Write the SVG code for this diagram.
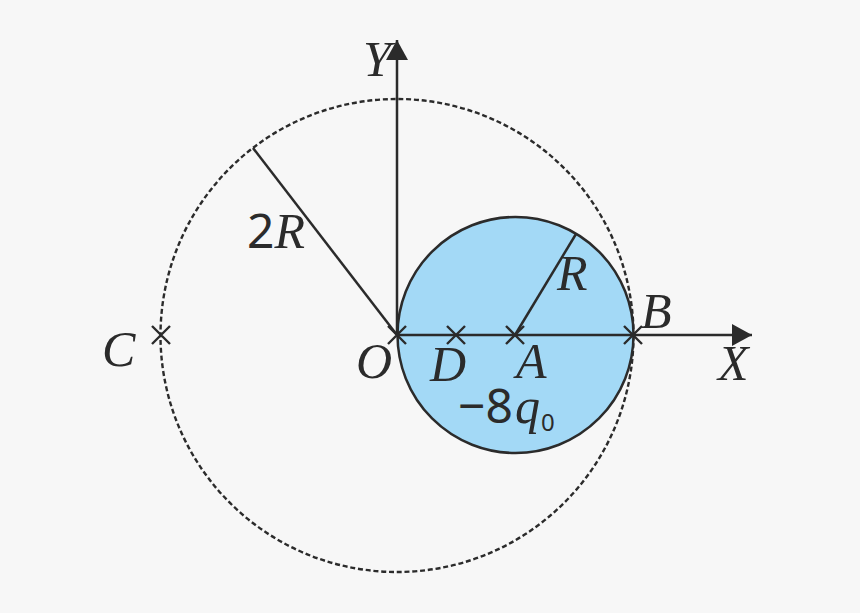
<svg xmlns="http://www.w3.org/2000/svg" width="860" height="613" viewBox="0 0 860 613">
<defs>
<style>
.ln{stroke:#2b2b2b;stroke-width:2.5;fill:none}
.cr{stroke:#2b2b2b;stroke-width:2.4;fill:none}
.lb{font-family:"Liberation Serif","DejaVu Serif",serif;font-style:italic;font-size:50px;fill:#2b2b2b}
.nm{font-family:"Noto Sans","Open Sans",sans-serif;font-style:normal;font-size:48px;fill:#2b2b2b}
.sb{font-family:"Noto Sans","Open Sans",sans-serif;font-style:normal;font-size:24px;fill:#2b2b2b}
</style>
<marker id="ah" viewBox="0 0 20 22" refX="20" refY="11" markerWidth="20" markerHeight="22" markerUnits="userSpaceOnUse" orient="auto">
<path d="M0,0 L20,11 L0,22 Z" fill="#2b2b2b"/>
</marker>
</defs>
<rect width="860" height="613" fill="#f7f7f7"/>
<g id="big-circle">
<circle cx="397" cy="335.5" r="236.5" fill="none" stroke="#2b2b2b" stroke-width="2.4" stroke-dasharray="5,2.8"/>
</g>
<g id="charge-sphere">
<circle cx="515.5" cy="335" r="118" fill="#a3d9f6" stroke="#2b2b2b" stroke-width="2.5"/>
</g>
<g id="connectors">
<line class="ln" x1="397" y1="335" x2="397" y2="40" marker-end="url(#ah)"/>
<line class="ln" x1="397" y1="335" x2="752" y2="335" marker-end="url(#ah)"/>
<line class="ln" x1="397" y1="335" x2="253" y2="148"/>
<line class="ln" x1="515" y1="335" x2="576" y2="234"/>
</g>
<g id="point-O"><path class="cr" d="M388,326 L406,344 M406,326 L388,344"/><text class="lb" x="356" y="378">O</text></g>
<g id="point-D"><path class="cr" d="M447,326 L465,344 M465,326 L447,344"/><text class="lb" x="430" y="381">D</text></g>
<g id="point-A"><path class="cr" d="M506,326 L524,344 M524,326 L506,344"/><text class="lb" x="516" y="378">A</text></g>
<g id="point-B"><path class="cr" d="M624,326 L642,344 M642,326 L624,344"/><text class="lb" x="641" y="328">B</text></g>
<g id="point-C"><path class="cr" d="M152,326 L170,344 M170,326 L152,344"/><text class="lb" x="102" y="366">C</text></g>
<g id="axis-labels">
<text class="lb" x="363" y="76">Y</text>
<text class="lb" x="718" y="380">X</text>
</g>
<g id="radius-labels">
<text x="247" y="248"><tspan class="nm">2</tspan><tspan class="lb">R</tspan></text>
<text class="lb" x="557" y="290">R</text>
</g>
<g id="charge-label">
<text x="458" y="423"><tspan class="nm">−8</tspan><tspan class="lb" dx="2">q</tspan><tspan class="sb" dx="1" dy="8">0</tspan></text>
</g>
</svg>
